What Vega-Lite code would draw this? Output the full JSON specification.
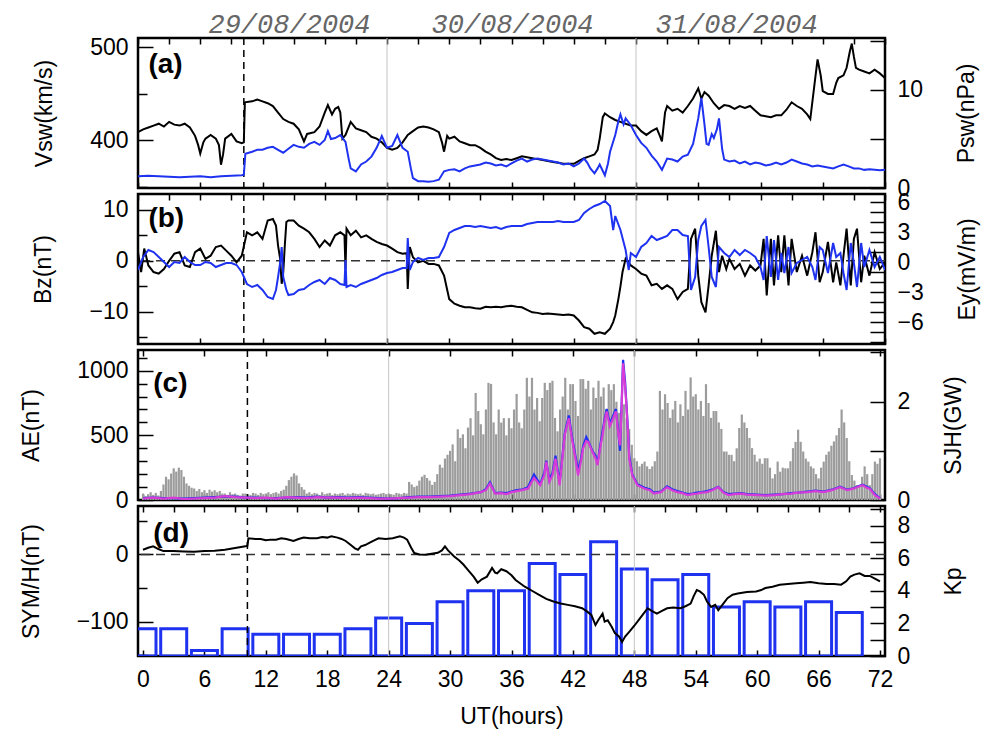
{
"$schema": "https://vega.github.io/schema/vega-lite/v6.json",
"padding": {"left": 18, "top": 9, "right": 5, "bottom": 5},
"bounds": "flush",
"spacing": 6,
"config": {
  "font": "Liberation Sans",
  "view": {"stroke": "black", "strokeWidth": 2.5},
  "axis": {"domain": false, "grid": false, "zindex": 1, "tickColor": "black", "tickWidth": 1.5, "labelFont": "Liberation Sans", "labelFontSize": 23, "labelColor": "black", "titleFont": "Liberation Sans", "titleFontSize": 23, "titleFontWeight": "normal", "titleColor": "black", "labelOverlap": false, "labelFlush": false}
},
"datasets": {
  "days": [{"h": 24}, {"h": 48}],
  "onset": [{"h": 10.2}],
  "zero": [{"z": 0}],
  "dates": [{"h": 14.6, "d": "29/08/2004"}, {"h": 36.1, "d": "30/08/2004"}, {"h": 57.7, "d": "31/08/2004"}],
  "vsw": [{"h":0,"v":409},{"h":0.5,"v":412},{"h":1,"v":414},{"h":1.5,"v":416},{"h":2,"v":418},{"h":2.5,"v":415},{"h":3,"v":420},{"h":3.5,"v":417},{"h":4,"v":416},{"h":4.5,"v":418},{"h":5,"v":414},{"h":5.5,"v":405},{"h":5.8,"v":395},{"h":6,"v":386},{"h":6.3,"v":398},{"h":6.5,"v":402},{"h":7,"v":406},{"h":7.5,"v":402},{"h":7.8,"v":395},{"h":8,"v":374},{"h":8.2,"v":385},{"h":8.4,"v":402},{"h":9,"v":407},{"h":9.5,"v":399},{"h":10,"v":397},{"h":10.2,"v":398},{"h":10.3,"v":441},{"h":11,"v":442},{"h":11.5,"v":444},{"h":12,"v":442},{"h":12.5,"v":440},{"h":13,"v":437},{"h":13.5,"v":430},{"h":14,"v":423},{"h":14.5,"v":420},{"h":15,"v":418},{"h":15.5,"v":412},{"h":16,"v":399},{"h":16.3,"v":407},{"h":17,"v":409},{"h":17.5,"v":415},{"h":18,"v":430},{"h":18.3,"v":438},{"h":18.7,"v":428},{"h":19,"v":434},{"h":19.3,"v":436},{"h":19.5,"v":430},{"h":19.7,"v":402},{"h":20,"v":406},{"h":20.5,"v":420},{"h":21,"v":413},{"h":21.5,"v":411},{"h":22,"v":409},{"h":22.5,"v":404},{"h":23,"v":402},{"h":23.5,"v":398},{"h":24,"v":392},{"h":24.5,"v":390},{"h":25,"v":392},{"h":25.5,"v":398},{"h":26,"v":406},{"h":26.5,"v":410},{"h":27,"v":414},{"h":27.5,"v":415},{"h":28,"v":414},{"h":28.5,"v":412},{"h":29,"v":409},{"h":29.3,"v":398},{"h":29.5,"v":388},{"h":29.8,"v":405},{"h":30,"v":402},{"h":30.5,"v":404},{"h":31,"v":399},{"h":31.5,"v":397},{"h":32,"v":395},{"h":32.5,"v":395},{"h":33,"v":392},{"h":33.5,"v":388},{"h":34,"v":385},{"h":34.5,"v":381},{"h":35,"v":379},{"h":35.5,"v":380},{"h":36,"v":379},{"h":36.5,"v":381},{"h":37,"v":383},{"h":37.5,"v":382},{"h":38,"v":381},{"h":38.5,"v":380},{"h":39,"v":379},{"h":39.5,"v":378},{"h":40,"v":377},{"h":40.5,"v":376},{"h":41,"v":375},{"h":41.5,"v":375},{"h":42,"v":375},{"h":42.5,"v":378},{"h":43,"v":381},{"h":43.5,"v":383},{"h":44,"v":385},{"h":44.3,"v":390},{"h":44.5,"v":402},{"h":44.8,"v":425},{"h":45,"v":429},{"h":45.5,"v":425},{"h":46,"v":422},{"h":46.5,"v":420},{"h":47,"v":418},{"h":47.5,"v":416},{"h":48,"v":416},{"h":48.5,"v":410},{"h":49,"v":406},{"h":49.5,"v":410},{"h":50,"v":413},{"h":50.3,"v":405},{"h":50.5,"v":399},{"h":50.8,"v":430},{"h":51,"v":437},{"h":51.5,"v":432},{"h":52,"v":434},{"h":52.5,"v":430},{"h":53,"v":437},{"h":53.5,"v":445},{"h":54,"v":456},{"h":54.3,"v":445},{"h":54.6,"v":452},{"h":55,"v":448},{"h":55.5,"v":440},{"h":56,"v":434},{"h":56.5,"v":438},{"h":57,"v":437},{"h":57.5,"v":434},{"h":58,"v":437},{"h":58.5,"v":435},{"h":59,"v":437},{"h":59.5,"v":432},{"h":60,"v":427},{"h":60.5,"v":426},{"h":61,"v":425},{"h":61.5,"v":427},{"h":62,"v":427},{"h":62.5,"v":433},{"h":63,"v":441},{"h":63.5,"v":437},{"h":64,"v":434},{"h":64.5,"v":428},{"h":64.8,"v":423},{"h":65.2,"v":460},{"h":65.5,"v":487},{"h":65.8,"v":470},{"h":66,"v":453},{"h":66.5,"v":450},{"h":67,"v":450},{"h":67.3,"v":462},{"h":67.5,"v":467},{"h":68,"v":470},{"h":68.3,"v":478},{"h":68.6,"v":495},{"h":68.8,"v":504},{"h":69,"v":490},{"h":69.2,"v":478},{"h":69.5,"v":476},{"h":70,"v":474},{"h":70.5,"v":472},{"h":71,"v":476},{"h":71.5,"v":472},{"h":72,"v":467}],
  "psw": [{"h":0,"p":1.2},{"h":1,"p":1.25},{"h":2,"p":1.2},{"h":3,"p":1.15},{"h":4,"p":1.1},{"h":5,"p":1.15},{"h":6,"p":1.2},{"h":7,"p":1.1},{"h":8,"p":1.2},{"h":9,"p":1.25},{"h":10,"p":1.3},{"h":10.2,"p":1.35},{"h":10.35,"p":3.5},{"h":11,"p":3.7},{"h":11.5,"p":3.9},{"h":12,"p":3.9},{"h":12.5,"p":4.1},{"h":13,"p":4.2},{"h":13.5,"p":3.9},{"h":14,"p":3.6},{"h":14.5,"p":4.0},{"h":15,"p":4.4},{"h":15.5,"p":4.2},{"h":16,"p":4.1},{"h":16.5,"p":4.5},{"h":17,"p":4.7},{"h":17.5,"p":4.4},{"h":18,"p":4.9},{"h":18.3,"p":5.8},{"h":18.6,"p":5.0},{"h":19,"p":5.1},{"h":19.5,"p":5.4},{"h":20,"p":4.7},{"h":20.3,"p":3.0},{"h":20.5,"p":2.0},{"h":21,"p":1.7},{"h":21.5,"p":2.4},{"h":22,"p":2.7},{"h":22.5,"p":3.2},{"h":23,"p":4.1},{"h":23.5,"p":5.3},{"h":24,"p":4.1},{"h":24.5,"p":4.3},{"h":25,"p":5.4},{"h":25.5,"p":4.1},{"h":26,"p":3.7},{"h":26.3,"p":2.0},{"h":26.5,"p":1.0},{"h":27,"p":0.7},{"h":27.5,"p":0.7},{"h":28,"p":0.65},{"h":28.5,"p":0.7},{"h":29,"p":0.85},{"h":29.5,"p":1.7},{"h":30,"p":1.85},{"h":30.5,"p":1.9},{"h":31,"p":1.7},{"h":31.5,"p":2.0},{"h":32,"p":2.2},{"h":32.5,"p":2.3},{"h":33,"p":2.4},{"h":33.5,"p":2.6},{"h":34,"p":2.5},{"h":34.5,"p":2.3},{"h":35,"p":2.4},{"h":35.5,"p":2.2},{"h":36,"p":2.5},{"h":36.5,"p":2.8},{"h":37,"p":3.0},{"h":37.5,"p":2.7},{"h":38,"p":2.9},{"h":38.5,"p":3.0},{"h":39,"p":2.9},{"h":39.5,"p":2.8},{"h":40,"p":2.7},{"h":40.5,"p":2.6},{"h":41,"p":2.4},{"h":41.5,"p":2.5},{"h":42,"p":2.2},{"h":42.5,"p":2.5},{"h":43,"p":3.0},{"h":43.3,"p":2.6},{"h":43.6,"p":2.0},{"h":44,"p":1.5},{"h":44.3,"p":2.0},{"h":44.5,"p":2.4},{"h":45,"p":1.3},{"h":45.3,"p":2.5},{"h":45.5,"p":3.7},{"h":46,"p":5.4},{"h":46.3,"p":6.8},{"h":46.5,"p":7.5},{"h":46.8,"p":6.5},{"h":47,"p":7.1},{"h":47.5,"p":6.4},{"h":48,"p":5.4},{"h":48.5,"p":4.6},{"h":49,"p":4.1},{"h":49.5,"p":3.3},{"h":50,"p":2.7},{"h":50.5,"p":1.85},{"h":51,"p":3.0},{"h":51.5,"p":2.9},{"h":52,"p":2.7},{"h":52.5,"p":3.2},{"h":53,"p":3.4},{"h":53.5,"p":4.5},{"h":54,"p":7.1},{"h":54.3,"p":9.2},{"h":54.6,"p":6.5},{"h":54.8,"p":4.5},{"h":55,"p":4.4},{"h":55.3,"p":5.5},{"h":55.5,"p":5.1},{"h":55.8,"p":6.0},{"h":56,"p":7.1},{"h":56.3,"p":4.0},{"h":56.5,"p":2.9},{"h":57,"p":2.7},{"h":57.5,"p":2.8},{"h":58,"p":2.5},{"h":58.5,"p":2.7},{"h":59,"p":2.4},{"h":59.5,"p":2.6},{"h":60,"p":2.5},{"h":60.5,"p":2.3},{"h":61,"p":2.4},{"h":61.5,"p":2.6},{"h":62,"p":2.4},{"h":62.5,"p":2.6},{"h":63,"p":2.9},{"h":63.5,"p":2.7},{"h":64,"p":2.5},{"h":64.5,"p":2.4},{"h":65,"p":2.2},{"h":65.5,"p":2.3},{"h":66,"p":2.2},{"h":66.5,"p":2.1},{"h":67,"p":2.0},{"h":67.5,"p":2.2},{"h":68,"p":2.4},{"h":68.5,"p":2.2},{"h":69,"p":2.0},{"h":69.5,"p":2.0},{"h":70,"p":1.85},{"h":70.5,"p":1.9},{"h":71,"p":1.85},{"h":71.5,"p":1.8},{"h":72,"p":1.85}],
  "bz": [{"h":0,"b":1.7},{"h":0.3,"b":-2.2},{"h":0.6,"b":2.4},{"h":1,"b":-0.9},{"h":1.5,"b":-2.2},{"h":2,"b":-2.5},{"h":2.5,"b":-1.6},{"h":3,"b":0},{"h":3.5,"b":1.4},{"h":4,"b":1.7},{"h":4.5,"b":-0.9},{"h":5,"b":-1.2},{"h":5.5,"b":1.7},{"h":6,"b":2.4},{"h":6.5,"b":0.4},{"h":7,"b":1.0},{"h":7.5,"b":2.7},{"h":8,"b":3.0},{"h":8.5,"b":2.0},{"h":9,"b":1.0},{"h":9.5,"b":-0.3},{"h":10,"b":1.0},{"h":10.5,"b":5.6},{"h":11,"b":5.0},{"h":11.5,"b":5.6},{"h":12,"b":4.3},{"h":12.5,"b":7.9},{"h":13,"b":8.2},{"h":13.3,"b":6.9},{"h":13.5,"b":3.0},{"h":13.7,"b":0.4},{"h":13.85,"b":-4.5},{"h":14,"b":-2.2},{"h":14.15,"b":3},{"h":14.3,"b":7.6},{"h":14.5,"b":7.9},{"h":15,"b":7.9},{"h":15.5,"b":6.9},{"h":16,"b":6.3},{"h":16.5,"b":5.6},{"h":17,"b":4.3},{"h":17.5,"b":2.7},{"h":18,"b":4.0},{"h":18.5,"b":3.0},{"h":19,"b":5.0},{"h":19.5,"b":5.6},{"h":19.9,"b":5},{"h":20,"b":-1.6},{"h":20.1,"b":6.3},{"h":20.5,"b":5.0},{"h":21,"b":5.9},{"h":21.5,"b":4.6},{"h":22,"b":5.0},{"h":22.5,"b":4.3},{"h":23,"b":3.7},{"h":23.5,"b":3.3},{"h":24,"b":3.0},{"h":24.5,"b":2.4},{"h":25,"b":1.7},{"h":25.5,"b":1.4},{"h":25.9,"b":1.5},{"h":26,"b":-5.5},{"h":26.1,"b":-1},{"h":26.2,"b":2.7},{"h":26.5,"b":0.7},{"h":27,"b":-0.3},{"h":27.5,"b":0},{"h":28,"b":-0.6},{"h":28.5,"b":-0.6},{"h":29,"b":-0.9},{"h":29.5,"b":-2.9},{"h":30,"b":-7.5},{"h":30.5,"b":-8.4},{"h":31,"b":-8.8},{"h":31.5,"b":-9.1},{"h":32,"b":-9.1},{"h":32.5,"b":-9.3},{"h":33,"b":-9.4},{"h":33.5,"b":-9.0},{"h":34,"b":-9.1},{"h":34.5,"b":-9.0},{"h":35,"b":-9.1},{"h":35.5,"b":-8.9},{"h":36,"b":-8.8},{"h":36.5,"b":-9.0},{"h":37,"b":-9.1},{"h":37.5,"b":-9.6},{"h":38,"b":-10.1},{"h":38.5,"b":-10.2},{"h":39,"b":-10.4},{"h":39.5,"b":-10.3},{"h":40,"b":-10.4},{"h":40.5,"b":-10.5},{"h":41,"b":-10.6},{"h":41.5,"b":-10.5},{"h":42,"b":-10.7},{"h":42.5,"b":-11.7},{"h":43,"b":-13.0},{"h":43.5,"b":-13.3},{"h":44,"b":-14.3},{"h":44.5,"b":-14.0},{"h":45,"b":-14.3},{"h":45.5,"b":-13.3},{"h":45.8,"b":-12},{"h":46,"b":-10.7},{"h":46.3,"b":-7.5},{"h":46.5,"b":-5},{"h":46.7,"b":-2.2},{"h":47,"b":0.4},{"h":47.5,"b":-0.9},{"h":48,"b":-1.6},{"h":48.5,"b":-2.5},{"h":49,"b":-2.9},{"h":49.5,"b":-4.8},{"h":50,"b":-4.5},{"h":50.5,"b":-5.5},{"h":51,"b":-4.8},{"h":51.5,"b":-5.5},{"h":52,"b":-7.5},{"h":52.5,"b":-6.1},{"h":53,"b":-5.5},{"h":53.3,"b":4.3},{"h":53.7,"b":6.3},{"h":54,"b":-2.9},{"h":54.3,"b":-8.1},{"h":54.7,"b":-10.1},{"h":55,"b":-4.8},{"h":55.3,"b":1.0},{"h":55.7,"b":5.9},{"h":56,"b":-2.2},{"h":56.3,"b":1.0},{"h":56.7,"b":-1.6},{"h":57,"b":0.4},{"h":57.5,"b":-1.6},{"h":58,"b":-0.6},{"h":58.5,"b":-2.9},{"h":59,"b":-0.9},{"h":59.5,"b":-1.9},{"h":60,"b":-0.9},{"h":60.3,"b":4.3},{"h":60.6,"b":-6.8},{"h":61,"b":4.3},{"h":61.3,"b":-4.8},{"h":61.7,"b":5.0},{"h":62,"b":-2.2},{"h":62.3,"b":5.0},{"h":62.7,"b":-4.8},{"h":63,"b":4.3},{"h":63.5,"b":-2.2},{"h":64,"b":1.0},{"h":64.5,"b":-2.9},{"h":65,"b":1.7},{"h":65.3,"b":5.6},{"h":65.7,"b":-4.2},{"h":66,"b":-2.2},{"h":66.5,"b":3.7},{"h":67,"b":-4.2},{"h":67.3,"b":-0.3},{"h":67.7,"b":-4.8},{"h":68,"b":1.0},{"h":68.3,"b":6.3},{"h":68.7,"b":-4.8},{"h":69,"b":4.3},{"h":69.3,"b":6.3},{"h":69.7,"b":-4.2},{"h":70,"b":1.0},{"h":70.5,"b":-2.9},{"h":71,"b":1.7},{"h":71.5,"b":-1.6},{"h":72,"b":-0.3}],
  "ey": [{"h":0,"e":-0.8},{"h":0.5,"e":0.5},{"h":1,"e":1.2},{"h":1.5,"e":1.0},{"h":2,"e":0.5},{"h":2.5,"e":0},{"h":3,"e":-0.5},{"h":3.5,"e":0},{"h":4,"e":-0.1},{"h":4.5,"e":0.5},{"h":5,"e":0},{"h":5.5,"e":-0.3},{"h":6,"e":-0.3},{"h":6.5,"e":0},{"h":7,"e":-0.1},{"h":7.5,"e":-0.5},{"h":8,"e":-0.3},{"h":8.5,"e":-0.1},{"h":9,"e":-0.1},{"h":9.5,"e":-0.3},{"h":10,"e":-1.0},{"h":10.5,"e":-2.2},{"h":11,"e":-2.5},{"h":11.5,"e":-2.3},{"h":12,"e":-2.8},{"h":12.5,"e":-3.5},{"h":13,"e":-3.7},{"h":13.3,"e":-2.8},{"h":13.5,"e":-1.5},{"h":13.7,"e":-0.1},{"h":13.85,"e":1.5},{"h":14,"e":-1.5},{"h":14.3,"e":-2.8},{"h":14.5,"e":-3.3},{"h":15,"e":-3.2},{"h":15.5,"e":-2.8},{"h":16,"e":-2.7},{"h":16.5,"e":-2.3},{"h":17,"e":-2.0},{"h":17.5,"e":-1.8},{"h":18,"e":-2.2},{"h":18.5,"e":-1.6},{"h":19,"e":-1.8},{"h":19.5,"e":-2.2},{"h":19.9,"e":-2.3},{"h":20,"e":0.2},{"h":20.1,"e":-2.5},{"h":20.5,"e":-2.3},{"h":21,"e":-2.5},{"h":21.5,"e":-2.2},{"h":22,"e":-2.0},{"h":22.5,"e":-1.8},{"h":23,"e":-1.6},{"h":23.5,"e":-1.3},{"h":24,"e":-1.1},{"h":24.5,"e":-1.0},{"h":25,"e":-0.8},{"h":25.5,"e":-0.6},{"h":25.9,"e":-0.6},{"h":26,"e":2.4},{"h":26.1,"e":0.5},{"h":26.2,"e":-0.8},{"h":26.5,"e":0},{"h":27,"e":0.4},{"h":27.5,"e":0.2},{"h":28,"e":0.4},{"h":28.5,"e":0.4},{"h":29,"e":0.5},{"h":29.5,"e":1.5},{"h":30,"e":2.9},{"h":30.5,"e":3.2},{"h":31,"e":3.4},{"h":31.5,"e":3.6},{"h":32,"e":3.6},{"h":32.5,"e":3.5},{"h":33,"e":3.6},{"h":33.5,"e":3.5},{"h":34,"e":3.4},{"h":34.5,"e":3.5},{"h":35,"e":3.3},{"h":35.5,"e":3.5},{"h":36,"e":3.6},{"h":36.5,"e":3.6},{"h":37,"e":3.6},{"h":37.5,"e":3.8},{"h":38,"e":3.9},{"h":38.5,"e":4.0},{"h":39,"e":4.0},{"h":39.5,"e":4.0},{"h":40,"e":4.0},{"h":40.5,"e":4.1},{"h":41,"e":4.0},{"h":41.5,"e":4.0},{"h":42,"e":4.0},{"h":42.5,"e":4.2},{"h":43,"e":4.9},{"h":43.5,"e":5.3},{"h":44,"e":5.6},{"h":44.5,"e":5.8},{"h":45,"e":6.1},{"h":45.5,"e":5.6},{"h":45.8,"e":3.2},{"h":46,"e":4.6},{"h":46.5,"e":3.2},{"h":47,"e":1.2},{"h":47.3,"e":-0.8},{"h":47.5,"e":0.9},{"h":48,"e":0.5},{"h":48.5,"e":1.5},{"h":49,"e":1.9},{"h":49.5,"e":2.6},{"h":50,"e":2.2},{"h":50.5,"e":2.4},{"h":51,"e":2.6},{"h":51.5,"e":3.2},{"h":52,"e":3.2},{"h":52.5,"e":2.7},{"h":53,"e":2.6},{"h":53.3,"e":-2.8},{"h":53.7,"e":-1.5},{"h":54,"e":2.2},{"h":54.3,"e":3.6},{"h":54.7,"e":4.2},{"h":55,"e":1.5},{"h":55.3,"e":-1.5},{"h":55.7,"e":-2.5},{"h":56,"e":1.5},{"h":56.5,"e":0.9},{"h":57,"e":0.5},{"h":57.5,"e":1.2},{"h":58,"e":0.7},{"h":58.5,"e":1.2},{"h":59,"e":0.9},{"h":59.5,"e":0.5},{"h":60,"e":-0.5},{"h":60.3,"e":-1.8},{"h":60.6,"e":2.6},{"h":61,"e":-1.5},{"h":61.3,"e":2.2},{"h":61.7,"e":-1.8},{"h":62,"e":0.9},{"h":62.3,"e":-1.1},{"h":62.7,"e":1.5},{"h":63,"e":-1.1},{"h":63.5,"e":-0.1},{"h":64,"e":0.2},{"h":64.5,"e":0.5},{"h":65,"e":-0.5},{"h":65.3,"e":-1.8},{"h":65.7,"e":1.5},{"h":66,"e":1.2},{"h":66.5,"e":-1.1},{"h":67,"e":1.9},{"h":67.3,"e":0.5},{"h":67.7,"e":0.9},{"h":68,"e":-1.1},{"h":68.3,"e":-2.8},{"h":68.7,"e":1.9},{"h":69,"e":-0.1},{"h":69.3,"e":-2.5},{"h":69.7,"e":1.9},{"h":70,"e":-0.5},{"h":70.5,"e":1.2},{"h":71,"e":-0.5},{"h":71.5,"e":0.5},{"h":72,"e":-0.8}],
  "ae": [{"h":0,"a":50},{"h":0.25,"a":30},{"h":0.5,"a":45},{"h":0.75,"a":60},{"h":1,"a":40},{"h":1.25,"a":55},{"h":1.5,"a":35},{"h":1.75,"a":70},{"h":2,"a":120},{"h":2.25,"a":180},{"h":2.5,"a":160},{"h":2.75,"a":205},{"h":3,"a":245},{"h":3.25,"a":220},{"h":3.5,"a":250},{"h":3.75,"a":232},{"h":4,"a":180},{"h":4.25,"a":128},{"h":4.5,"a":110},{"h":4.75,"a":95},{"h":5,"a":89},{"h":5.25,"a":70},{"h":5.5,"a":85},{"h":5.75,"a":60},{"h":6,"a":76},{"h":6.25,"a":55},{"h":6.5,"a":80},{"h":6.75,"a":65},{"h":7,"a":76},{"h":7.25,"a":60},{"h":7.5,"a":70},{"h":7.75,"a":50},{"h":8,"a":50},{"h":8.25,"a":40},{"h":8.5,"a":60},{"h":8.75,"a":45},{"h":9,"a":50},{"h":9.25,"a":40},{"h":9.5,"a":35},{"h":9.75,"a":50},{"h":10,"a":50},{"h":10.25,"a":45},{"h":10.5,"a":40},{"h":10.75,"a":55},{"h":11,"a":50},{"h":11.25,"a":40},{"h":11.5,"a":55},{"h":11.75,"a":45},{"h":12,"a":50},{"h":12.25,"a":60},{"h":12.5,"a":45},{"h":12.75,"a":55},{"h":13,"a":60},{"h":13.25,"a":50},{"h":13.5,"a":70},{"h":13.75,"a":80},{"h":14,"a":110},{"h":14.25,"a":154},{"h":14.5,"a":180},{"h":14.75,"a":206},{"h":15,"a":190},{"h":15.25,"a":128},{"h":15.5,"a":100},{"h":15.75,"a":80},{"h":16,"a":50},{"h":16.25,"a":60},{"h":16.5,"a":45},{"h":16.75,"a":55},{"h":17,"a":50},{"h":17.25,"a":40},{"h":17.5,"a":60},{"h":17.75,"a":45},{"h":18,"a":50},{"h":18.25,"a":55},{"h":18.5,"a":40},{"h":18.75,"a":50},{"h":19,"a":45},{"h":19.25,"a":50},{"h":19.5,"a":55},{"h":19.75,"a":40},{"h":20,"a":50},{"h":20.25,"a":45},{"h":20.5,"a":55},{"h":20.75,"a":50},{"h":21,"a":45},{"h":21.25,"a":50},{"h":21.5,"a":40},{"h":21.75,"a":55},{"h":22,"a":50},{"h":22.25,"a":45},{"h":22.5,"a":50},{"h":22.75,"a":40},{"h":23,"a":45},{"h":23.25,"a":50},{"h":23.5,"a":55},{"h":23.75,"a":45},{"h":24,"a":50},{"h":24.25,"a":45},{"h":24.5,"a":40},{"h":24.75,"a":55},{"h":25,"a":50},{"h":25.25,"a":45},{"h":25.5,"a":55},{"h":25.75,"a":50},{"h":26,"a":140},{"h":26.25,"a":120},{"h":26.5,"a":100},{"h":26.75,"a":110},{"h":27,"a":150},{"h":27.25,"a":180},{"h":27.5,"a":195},{"h":27.75,"a":170},{"h":28,"a":150},{"h":28.25,"a":117},{"h":28.5,"a":140},{"h":28.75,"a":200},{"h":29,"a":273},{"h":29.25,"a":250},{"h":29.5,"a":320},{"h":29.75,"a":350},{"h":30,"a":380},{"h":30.25,"a":430},{"h":30.5,"a":300},{"h":30.75,"a":547},{"h":31,"a":480},{"h":31.25,"a":508},{"h":31.5,"a":400},{"h":31.75,"a":560},{"h":32,"a":633},{"h":32.25,"a":500},{"h":32.5,"a":828},{"h":32.75,"a":688},{"h":33,"a":586},{"h":33.25,"a":508},{"h":33.5,"a":700},{"h":33.75,"a":906},{"h":34,"a":898},{"h":34.25,"a":600},{"h":34.5,"a":508},{"h":34.75,"a":700},{"h":35,"a":599},{"h":35.25,"a":633},{"h":35.5,"a":500},{"h":35.75,"a":633},{"h":36,"a":555},{"h":36.25,"a":700},{"h":36.5,"a":820},{"h":36.75,"a":600},{"h":37,"a":555},{"h":37.25,"a":700},{"h":37.5,"a":945},{"h":37.75,"a":800},{"h":38,"a":945},{"h":38.25,"a":700},{"h":38.5,"a":789},{"h":38.75,"a":609},{"h":39,"a":789},{"h":39.25,"a":906},{"h":39.5,"a":850},{"h":39.75,"a":906},{"h":40,"a":922},{"h":40.25,"a":635},{"h":40.5,"a":531},{"h":40.75,"a":700},{"h":41,"a":800},{"h":41.25,"a":945},{"h":41.5,"a":700},{"h":41.75,"a":896},{"h":42,"a":896},{"h":42.25,"a":766},{"h":42.5,"a":650},{"h":42.75,"a":935},{"h":43,"a":935},{"h":43.25,"a":860},{"h":43.5,"a":922},{"h":43.75,"a":700},{"h":44,"a":870},{"h":44.25,"a":789},{"h":44.5,"a":922},{"h":44.75,"a":800},{"h":45,"a":870},{"h":45.25,"a":700},{"h":45.5,"a":896},{"h":45.75,"a":850},{"h":46,"a":896},{"h":46.25,"a":760},{"h":46.5,"a":674},{"h":46.75,"a":700},{"h":47,"a":740},{"h":47.25,"a":635},{"h":47.5,"a":550},{"h":47.75,"a":427},{"h":48,"a":323},{"h":48.25,"a":300},{"h":48.5,"a":260},{"h":48.75,"a":280},{"h":49,"a":297},{"h":49.25,"a":260},{"h":49.5,"a":240},{"h":49.75,"a":260},{"h":50,"a":300},{"h":50.25,"a":375},{"h":50.5,"a":844},{"h":50.75,"a":700},{"h":51,"a":818},{"h":51.25,"a":750},{"h":51.5,"a":635},{"h":51.75,"a":700},{"h":52,"a":766},{"h":52.25,"a":600},{"h":52.5,"a":740},{"h":52.75,"a":650},{"h":53,"a":844},{"h":53.25,"a":700},{"h":53.5,"a":948},{"h":53.75,"a":800},{"h":54,"a":818},{"h":54.25,"a":700},{"h":54.5,"a":766},{"h":54.75,"a":650},{"h":55,"a":896},{"h":55.25,"a":750},{"h":55.5,"a":635},{"h":55.75,"a":688},{"h":56,"a":688},{"h":56.25,"a":600},{"h":56.5,"a":550},{"h":56.75,"a":375},{"h":57,"a":375},{"h":57.25,"a":350},{"h":57.5,"a":349},{"h":57.75,"a":300},{"h":58,"a":400},{"h":58.25,"a":557},{"h":58.5,"a":661},{"h":58.75,"a":600},{"h":59,"a":557},{"h":59.25,"a":480},{"h":59.5,"a":401},{"h":59.75,"a":350},{"h":60,"a":297},{"h":60.25,"a":320},{"h":60.5,"a":280},{"h":60.75,"a":323},{"h":61,"a":323},{"h":61.25,"a":250},{"h":61.5,"a":167},{"h":61.75,"a":200},{"h":62,"a":297},{"h":62.25,"a":219},{"h":62.5,"a":250},{"h":62.75,"a":245},{"h":63,"a":245},{"h":63.25,"a":300},{"h":63.5,"a":401},{"h":63.75,"a":450},{"h":64,"a":544},{"h":64.25,"a":450},{"h":64.5,"a":375},{"h":64.75,"a":320},{"h":65,"a":297},{"h":65.25,"a":260},{"h":65.5,"a":245},{"h":65.75,"a":200},{"h":66,"a":167},{"h":66.25,"a":250},{"h":66.5,"a":297},{"h":66.75,"a":350},{"h":67,"a":375},{"h":67.25,"a":420},{"h":67.5,"a":453},{"h":67.75,"a":500},{"h":68,"a":557},{"h":68.25,"a":700},{"h":68.5,"a":600},{"h":68.75,"a":479},{"h":69,"a":300},{"h":69.25,"a":193},{"h":69.5,"a":150},{"h":69.75,"a":115},{"h":70,"a":115},{"h":70.25,"a":180},{"h":70.5,"a":260},{"h":70.75,"a":200},{"h":71,"a":115},{"h":71.25,"a":200},{"h":71.5,"a":297},{"h":71.75,"a":280},{"h":72,"a":323}],
  "sjh": [{"h":0,"m":0.03,"b":0.04},{"h":1,"m":0.05,"b":0.05},{"h":2,"m":0.03,"b":0.04},{"h":3,"m":0.05,"b":0.04},{"h":4,"m":0.02,"b":0.03},{"h":5,"m":0.03,"b":0.04},{"h":6,"m":0.04,"b":0.05},{"h":7,"m":0.05,"b":0.06},{"h":8,"m":0.08,"b":0.07},{"h":9,"m":0.06,"b":0.07},{"h":10,"m":0.05,"b":0.05},{"h":11,"m":0.04,"b":0.05},{"h":12,"m":0.05,"b":0.04},{"h":13,"m":0.03,"b":0.04},{"h":14,"m":0.06,"b":0.05},{"h":15,"m":0.05,"b":0.06},{"h":16,"m":0.04,"b":0.05},{"h":17,"m":0.06,"b":0.07},{"h":18,"m":0.05,"b":0.05},{"h":19,"m":0.05,"b":0.06},{"h":20,"m":0.04,"b":0.05},{"h":21,"m":0.05,"b":0.06},{"h":22,"m":0.04,"b":0.05},{"h":23,"m":0.03,"b":0.04},{"h":24,"m":0.03,"b":0.03},{"h":25,"m":0.04,"b":0.04},{"h":26,"m":0.05,"b":0.06},{"h":27,"m":0.06,"b":0.07},{"h":28,"m":0.06,"b":0.07},{"h":29,"m":0.07,"b":0.08},{"h":30,"m":0.08,"b":0.09},{"h":31,"m":0.1,"b":0.11},{"h":32,"m":0.12,"b":0.13},{"h":33,"m":0.16,"b":0.16},{"h":33.5,"m":0.2,"b":0.22},{"h":33.9,"m":0.33,"b":0.36},{"h":34.4,"m":0.13,"b":0.14},{"h":35,"m":0.14,"b":0.15},{"h":35.5,"m":0.12,"b":0.14},{"h":36,"m":0.16,"b":0.17},{"h":36.5,"m":0.18,"b":0.2},{"h":37,"m":0.2,"b":0.21},{"h":37.6,"m":0.23,"b":0.26},{"h":38.2,"m":0.45,"b":0.52},{"h":38.8,"m":0.3,"b":0.32},{"h":39.2,"m":0.5,"b":0.55},{"h":39.4,"m":0.78,"b":0.8},{"h":39.7,"m":0.37,"b":0.4},{"h":40,"m":0.5,"b":0.55},{"h":40.3,"m":0.84,"b":0.9},{"h":40.7,"m":0.3,"b":0.35},{"h":41,"m":0.9,"b":0.95},{"h":41.2,"m":1.32,"b":1.35},{"h":41.6,"m":1.66,"b":1.72},{"h":41.9,"m":1.25,"b":1.3},{"h":42.2,"m":0.9,"b":0.95},{"h":42.5,"m":0.5,"b":0.6},{"h":42.8,"m":0.8,"b":0.85},{"h":43,"m":1.05,"b":1.1},{"h":43.3,"m":1.2,"b":1.28},{"h":43.5,"m":1.18,"b":1.2},{"h":43.9,"m":0.98,"b":1.0},{"h":44.2,"m":0.85,"b":0.9},{"h":44.4,"m":0.71,"b":0.75},{"h":44.7,"m":1.1,"b":1.15},{"h":44.9,"m":1.32,"b":1.4},{"h":45.1,"m":1.6,"b":1.65},{"h":45.3,"m":1.8,"b":1.85},{"h":45.6,"m":1.5,"b":1.55},{"h":45.8,"m":1.59,"b":1.65},{"h":46,"m":1.7,"b":1.75},{"h":46.2,"m":1.8,"b":1.85},{"h":46.4,"m":1.4,"b":1.45},{"h":46.6,"m":1.11,"b":1.0},{"h":46.75,"m":1.8,"b":1.9},{"h":46.9,"m":2.78,"b":2.85},{"h":47.1,"m":2.3,"b":2.4},{"h":47.2,"m":2.0,"b":2.05},{"h":47.4,"m":1.3,"b":1.35},{"h":47.5,"m":0.84,"b":0.9},{"h":47.8,"m":0.5,"b":0.52},{"h":48.3,"m":0.3,"b":0.32},{"h":49,"m":0.23,"b":0.25},{"h":49.5,"m":0.2,"b":0.22},{"h":49.9,"m":0.13,"b":0.15},{"h":50.6,"m":0.16,"b":0.17},{"h":51.2,"m":0.26,"b":0.28},{"h":51.7,"m":0.2,"b":0.22},{"h":52.2,"m":0.16,"b":0.18},{"h":52.7,"m":0.14,"b":0.15},{"h":53.2,"m":0.1,"b":0.12},{"h":53.7,"m":0.12,"b":0.13},{"h":54.1,"m":0.13,"b":0.15},{"h":54.6,"m":0.15,"b":0.16},{"h":55.1,"m":0.16,"b":0.18},{"h":55.6,"m":0.2,"b":0.21},{"h":56.2,"m":0.26,"b":0.27},{"h":56.7,"m":0.15,"b":0.16},{"h":57.2,"m":0.1,"b":0.12},{"h":57.8,"m":0.12,"b":0.13},{"h":58.4,"m":0.13,"b":0.14},{"h":59,"m":0.11,"b":0.12},{"h":60,"m":0.1,"b":0.11},{"h":60.8,"m":0.09,"b":0.1},{"h":61.7,"m":0.1,"b":0.11},{"h":62.5,"m":0.12,"b":0.12},{"h":63.3,"m":0.13,"b":0.14},{"h":64,"m":0.15,"b":0.15},{"h":64.9,"m":0.16,"b":0.17},{"h":65.7,"m":0.18,"b":0.19},{"h":66.5,"m":0.16,"b":0.17},{"h":67.3,"m":0.2,"b":0.21},{"h":68.1,"m":0.26,"b":0.27},{"h":68.8,"m":0.2,"b":0.21},{"h":69.4,"m":0.23,"b":0.24},{"h":70,"m":0.28,"b":0.29},{"h":70.3,"m":0.3,"b":0.31},{"h":70.7,"m":0.25,"b":0.27},{"h":71,"m":0.23,"b":0.24},{"h":71.5,"m":0.1,"b":0.12},{"h":72,"m":0.03,"b":0.04}],
  "sym": [{"h":0,"s":7},{"h":0.5,"s":10},{"h":1,"s":12},{"h":1.5,"s":8},{"h":2,"s":5},{"h":3,"s":5},{"h":4,"s":4.5},{"h":5,"s":4},{"h":6,"s":5},{"h":7,"s":5.5},{"h":8,"s":7},{"h":9,"s":9.5},{"h":10,"s":12},{"h":10.2,"s":13},{"h":10.3,"s":24},{"h":11,"s":23},{"h":11.5,"s":23},{"h":12,"s":21},{"h":12.5,"s":22},{"h":13,"s":22},{"h":13.5,"s":24},{"h":14,"s":23},{"h":14.7,"s":20},{"h":15.2,"s":23},{"h":15.7,"s":25},{"h":16.3,"s":24},{"h":17,"s":24},{"h":17.5,"s":26},{"h":18,"s":25},{"h":18.4,"s":27},{"h":19,"s":25},{"h":19.4,"s":23},{"h":19.8,"s":20},{"h":20.3,"s":14},{"h":20.7,"s":9},{"h":21,"s":7},{"h":21.3,"s":12},{"h":21.7,"s":14},{"h":22.2,"s":18},{"h":23,"s":24},{"h":23.7,"s":23},{"h":24.4,"s":24},{"h":25.1,"s":27},{"h":25.5,"s":25},{"h":25.8,"s":22},{"h":26.2,"s":10},{"h":26.5,"s":2},{"h":27,"s":0},{"h":27.6,"s":-0.5},{"h":28.2,"s":1},{"h":28.8,"s":2.5},{"h":29.2,"s":6},{"h":29.5,"s":12},{"h":29.8,"s":6},{"h":30.4,"s":-3},{"h":30.9,"s":-9},{"h":31.3,"s":-15},{"h":31.8,"s":-24},{"h":32.3,"s":-33},{"h":32.7,"s":-42},{"h":33.1,"s":-37},{"h":33.6,"s":-33},{"h":34.1,"s":-20},{"h":34.4,"s":-27},{"h":34.6,"s":-28},{"h":35,"s":-22},{"h":35.5,"s":-25},{"h":36,"s":-31},{"h":36.4,"s":-38},{"h":37.3,"s":-48},{"h":38,"s":-54},{"h":38.7,"s":-60},{"h":39.4,"s":-66},{"h":40.1,"s":-70},{"h":40.8,"s":-73},{"h":41.5,"s":-75},{"h":42.2,"s":-77},{"h":42.9,"s":-80},{"h":43.4,"s":-85},{"h":43.8,"s":-90},{"h":44.2,"s":-105},{"h":44.5,"s":-97},{"h":44.9,"s":-88},{"h":45.1,"s":-100},{"h":45.4,"s":-98},{"h":45.8,"s":-108},{"h":46.1,"s":-117},{"h":46.5,"s":-122},{"h":46.8,"s":-130},{"h":47.1,"s":-122},{"h":47.5,"s":-115},{"h":48,"s":-106},{"h":48.4,"s":-98},{"h":48.9,"s":-88},{"h":49.3,"s":-80},{"h":49.7,"s":-84},{"h":50.2,"s":-88},{"h":50.7,"s":-84},{"h":51.2,"s":-80},{"h":51.8,"s":-79},{"h":52.5,"s":-80},{"h":53,"s":-77},{"h":53.5,"s":-73},{"h":53.8,"s":-62},{"h":54.1,"s":-53},{"h":54.4,"s":-55},{"h":54.8,"s":-60},{"h":55.1,"s":-70},{"h":55.5,"s":-78},{"h":55.9,"s":-75},{"h":56.2,"s":-83},{"h":56.6,"s":-75},{"h":57.1,"s":-65},{"h":57.6,"s":-60},{"h":58.1,"s":-58},{"h":59,"s":-56},{"h":59.9,"s":-55},{"h":60.4,"s":-53},{"h":60.8,"s":-50},{"h":61.5,"s":-48},{"h":62.2,"s":-45},{"h":63,"s":-44},{"h":63.8,"s":-43},{"h":64.5,"s":-42},{"h":65.2,"s":-41},{"h":66,"s":-43},{"h":66.8,"s":-44},{"h":67.5,"s":-44},{"h":68.2,"s":-45},{"h":68.7,"s":-40},{"h":69.1,"s":-33},{"h":69.5,"s":-30},{"h":70,"s":-28},{"h":70.5,"s":-32},{"h":71,"s":-32},{"h":71.5,"s":-36},{"h":72,"s":-40}],
  "kp": [{"h":0,"kp":1.67},{"h":3,"kp":1.67},{"h":6,"kp":0.33},{"h":9,"kp":1.67},{"h":12,"kp":1.33},{"h":15,"kp":1.33},{"h":18,"kp":1.33},{"h":21,"kp":1.67},{"h":24,"kp":2.33},{"h":27,"kp":2},{"h":30,"kp":3.33},{"h":33,"kp":4},{"h":36,"kp":4},{"h":39,"kp":5.67},{"h":42,"kp":5},{"h":45,"kp":7},{"h":48,"kp":5.33},{"h":51,"kp":4.67},{"h":54,"kp":5},{"h":57,"kp":3},{"h":60,"kp":3.33},{"h":63,"kp":3},{"h":66,"kp":3.33},{"h":69,"kp":2.67}]
},
"vconcat": [
 {
  "width": 747, "height": 150,
  "layer": [
   {"layer": [
     {"data": {"name": "days"}, "mark": {"type": "rule", "color": "#c4c4c4", "strokeWidth": 1},
      "encoding": {"x": {"field": "h", "type": "quantitative", "scale": {"domain": [0, 72], "nice": false, "zero": false}, "axis": {"orient": "bottom", "values": [0,3,6,9,12,15,18,21,24,27,30,33,36,39,42,45,48,51,54,57,60,63,66,69,72], "labels": false, "tickSize": -6, "title": null}}}},
     {"data": {"name": "onset"}, "mark": {"type": "rule", "color": "black", "strokeWidth": 1.5, "strokeDash": [7, 5]},
      "encoding": {"x": {"field": "h", "type": "quantitative", "scale": {"domain": [0, 72], "nice": false, "zero": false}}}},
     {"data": {"name": "vsw"}, "mark": {"type": "line", "color": "black", "strokeWidth": 2, "clip": true},
      "encoding": {"x": {"field": "h", "type": "quantitative", "scale": {"domain": [0, 72], "nice": false, "zero": false}},
                   "y": {"field": "v", "type": "quantitative", "scale": {"domain": [349, 510], "nice": false, "zero": false},
                         "axis": {"orient": "left", "values": [400, 500], "tickSize": -15, "labelPadding": 25, "title": "Vsw(km/s)", "titlePadding": 33}}}},
     {"data": {"values": [{"t": "(a)"}]}, "mark": {"type": "text", "align": "left", "baseline": "middle", "fontSize": 28, "fontWeight": "bold"},
      "encoding": {"x": {"datum": 1, "type": "quantitative", "scale": {"domain": [0, 72], "nice": false, "zero": false}},
                   "y": {"datum": 481, "type": "quantitative", "scale": {"domain": [349, 510], "nice": false, "zero": false}, "axis": {"orient": "left", "values": [350, 450], "labels": false, "tickSize": -9, "title": null}},
                   "text": {"field": "t"}}},
     {"data": {"name": "dates"}, "mark": {"type": "text", "align": "center", "baseline": "middle", "font": "Liberation Mono", "fontStyle": "italic", "fontSize": 27, "color": "#666666"},
      "encoding": {"x": {"field": "h", "type": "quantitative", "scale": {"domain": [0, 72], "nice": false, "zero": false}},
                   "y": {"datum": 524, "type": "quantitative", "scale": {"domain": [349, 510], "nice": false, "zero": false}, "axis": {"orient": "left", "ticks": false, "labels": false, "title": null}},
                   "text": {"field": "d"}}}
   ], "resolve": {"axis": {"y": "independent"}}},
   {"layer": [
     {"data": {"name": "psw"}, "mark": {"type": "line", "color": "#1e32f0", "strokeWidth": 2, "clip": true},
      "encoding": {"x": {"field": "h", "type": "quantitative", "scale": {"domain": [0, 72], "nice": false, "zero": false}, "axis": {"orient": "top", "values": [0,3,6,9,12,15,18,21,24,27,30,33,36,39,42,45,48,51,54,57,60,63,66,69,72], "labels": false, "tickSize": -6, "title": null}},
                   "y": {"field": "p", "type": "quantitative", "scale": {"domain": [0, 15.3], "nice": false, "zero": false},
                         "axis": {"orient": "right", "values": [0, 5, 10, 15], "labelExpr": "datum.value % 10 === 0 ? datum.label : ''", "tickSize": -15, "labelPadding": 27, "title": "Psw(nPa)", "titlePadding": 33, "titleAngle": 270, "titleBaseline": "top", "encode": {"ticks": {"x2": {"signal": "datum.value % 10 === 0 ? -15 : -9"}}}}}}}
   ]}
  ],
  "resolve": {"scale": {"y": "independent"}, "axis": {"x": "independent", "y": "independent"}}
 },
 {
  "width": 747, "height": 150,
  "layer": [
   {"layer": [
     {"data": {"name": "days"}, "mark": {"type": "rule", "color": "#c4c4c4", "strokeWidth": 1},
      "encoding": {"x": {"field": "h", "type": "quantitative", "scale": {"domain": [0, 72], "nice": false, "zero": false}, "axis": {"orient": "bottom", "values": [0,3,6,9,12,15,18,21,24,27,30,33,36,39,42,45,48,51,54,57,60,63,66,69,72], "labels": false, "tickSize": -6, "title": null}}}},
     {"data": {"name": "onset"}, "mark": {"type": "rule", "color": "black", "strokeWidth": 1.5, "strokeDash": [7, 5]},
      "encoding": {"x": {"field": "h", "type": "quantitative", "scale": {"domain": [0, 72], "nice": false, "zero": false}}}},
     {"data": {"name": "zero"}, "mark": {"type": "rule", "color": "#333333", "strokeWidth": 1.5, "strokeDash": [9, 6]},
      "encoding": {"y": {"field": "z", "type": "quantitative", "scale": {"domain": [-16.3, 13.1], "nice": false, "zero": false}, "axis": {"orient": "left", "values": [-15, -5, 5], "labels": false, "tickSize": -9, "title": null}}}},
     {"data": {"name": "bz"}, "mark": {"type": "line", "color": "black", "strokeWidth": 2, "clip": true},
      "encoding": {"x": {"field": "h", "type": "quantitative", "scale": {"domain": [0, 72], "nice": false, "zero": false}},
                   "y": {"field": "b", "type": "quantitative", "scale": {"domain": [-16.3, 13.1], "nice": false, "zero": false},
                         "axis": {"orient": "left", "values": [-10, 0, 10], "tickSize": -15, "labelPadding": 25, "title": "Bz(nT)", "titlePadding": 33}}}},
     {"data": {"values": [{"t": "(b)"}]}, "mark": {"type": "text", "align": "left", "baseline": "middle", "fontSize": 28, "fontWeight": "bold"},
      "encoding": {"x": {"datum": 1, "type": "quantitative", "scale": {"domain": [0, 72], "nice": false, "zero": false}},
                   "y": {"datum": 8.2, "type": "quantitative", "scale": {"domain": [-16.3, 13.1], "nice": false, "zero": false}, "axis": {"orient": "left", "ticks": false, "labels": false, "title": null}},
                   "text": {"field": "t"}}}
   ], "resolve": {"axis": {"y": "independent"}}},
   {"layer": [
     {"data": {"name": "ey"}, "mark": {"type": "line", "color": "#1e32f0", "strokeWidth": 2, "clip": true},
      "encoding": {"x": {"field": "h", "type": "quantitative", "scale": {"domain": [0, 72], "nice": false, "zero": false}, "axis": {"orient": "top", "values": [0,3,6,9,12,15,18,21,24,27,30,33,36,39,42,45,48,51,54,57,60,63,66,69,72], "labels": false, "tickSize": -6, "title": null}},
                   "y": {"field": "e", "type": "quantitative", "scale": {"domain": [-8.2, 6.8], "nice": false, "zero": false},
                         "axis": {"orient": "right", "values": [-8,-7,-6,-5,-4,-3,-2,-1,0,1,2,3,4,5,6], "labelExpr": "datum.value % 3 === 0 ? datum.label : ''", "tickSize": -15, "labelPadding": 27, "title": "Ey(mV/m)", "titlePadding": 33, "titleAngle": 270, "titleBaseline": "top", "encode": {"ticks": {"x2": {"signal": "datum.value % 3 === 0 ? -15 : -9"}}}}}}}
   ]}
  ],
  "resolve": {"scale": {"y": "independent"}, "axis": {"x": "independent", "y": "independent"}}
 },
 {
  "width": 747, "height": 150,
  "layer": [
   {"layer": [
     {"data": {"name": "days"}, "mark": {"type": "rule", "color": "#c4c4c4", "strokeWidth": 1},
      "encoding": {"x": {"field": "h", "type": "quantitative", "scale": {"domain": [0, 72], "nice": false, "zero": false}, "axis": {"orient": "bottom", "values": [0,3,6,9,12,15,18,21,24,27,30,33,36,39,42,45,48,51,54,57,60,63,66,69,72], "labels": false, "tickSize": -6, "title": null}}}},
     {"data": {"name": "ae"}, "mark": {"type": "bar", "color": "#9c9c9c", "size": 2.2, "clip": true},
      "encoding": {"x": {"field": "h", "type": "quantitative", "scale": {"domain": [0, 72], "nice": false, "zero": false}},
                   "y": {"field": "a", "type": "quantitative", "scale": {"domain": [0, 1160], "nice": false, "zero": false},
                         "axis": {"orient": "left", "values": [0, 500, 1000], "format": "d", "tickSize": -15, "labelPadding": 25, "title": "AE(nT)", "titlePadding": 33}}}},
     {"data": {"name": "onset"}, "mark": {"type": "rule", "color": "black", "strokeWidth": 1.5, "strokeDash": [7, 5]},
      "encoding": {"x": {"field": "h", "type": "quantitative", "scale": {"domain": [0, 72], "nice": false, "zero": false}}}},
     {"data": {"values": [{"t": "(c)"}]}, "mark": {"type": "text", "align": "left", "baseline": "middle", "fontSize": 28, "fontWeight": "bold"},
      "encoding": {"x": {"datum": 1, "type": "quantitative", "scale": {"domain": [0, 72], "nice": false, "zero": false}},
                   "y": {"datum": 898, "type": "quantitative", "scale": {"domain": [0, 1160], "nice": false, "zero": false}, "axis": {"orient": "left", "values": [100, 200, 300, 400, 600, 700, 800, 900, 1100], "labels": false, "tickSize": -9, "title": null}},
                   "text": {"field": "t"}}}
   ], "resolve": {"axis": {"y": "independent"}}},
   {"layer": [
     {"data": {"name": "sjh"}, "mark": {"type": "line", "color": "#1e32f0", "strokeWidth": 2.2, "clip": true},
      "encoding": {"x": {"field": "h", "type": "quantitative", "scale": {"domain": [0, 72], "nice": false, "zero": false}, "axis": {"orient": "top", "values": [0,3,6,9,12,15,18,21,24,27,30,33,36,39,42,45,48,51,54,57,60,63,66,69,72], "labels": false, "tickSize": -6, "title": null}},
                   "y": {"field": "b", "type": "quantitative", "scale": {"domain": [0, 3.05], "nice": false, "zero": false},
                         "axis": {"orient": "right", "values": [0, 1, 2, 3], "labelExpr": "datum.value % 2 === 0 ? datum.label : ''", "tickSize": -15, "labelPadding": 27, "title": "SJH(GW)", "titlePadding": 33, "titleAngle": 270, "titleBaseline": "top", "encode": {"ticks": {"x2": {"signal": "datum.value % 2 === 0 ? -15 : -9"}}}}}}},
     {"data": {"name": "sjh"}, "mark": {"type": "line", "color": "#d83cd8", "strokeWidth": 2.2, "clip": true},
      "encoding": {"x": {"field": "h", "type": "quantitative", "scale": {"domain": [0, 72], "nice": false, "zero": false}},
                   "y": {"field": "m", "type": "quantitative", "scale": {"domain": [0, 3.05], "nice": false, "zero": false}}}}
   ]}
  ],
  "resolve": {"scale": {"y": "independent"}, "axis": {"x": "independent", "y": "independent"}}
 },
 {
  "width": 747, "height": 150,
  "layer": [
   {"layer": [
     {"data": {"name": "kp"}, "mark": {"type": "bar", "filled": false, "color": "#1e32f0", "strokeWidth": 3, "size": 26, "clip": true},
      "encoding": {"x": {"field": "h", "type": "quantitative", "scale": {"domain": [0, 72], "nice": false, "zero": false}, "axis": {"orient": "top", "values": [0,3,6,9,12,15,18,21,24,27,30,33,36,39,42,45,48,51,54,57,60,63,66,69,72], "labels": false, "tickSize": -6, "title": null}},
                   "y": {"field": "kp", "type": "quantitative", "scale": {"domain": [0, 9.2], "nice": false, "zero": false},
                         "axis": {"orient": "right", "values": [0,1,2,3,4,5,6,7,8,9], "labelExpr": "datum.value % 2 === 0 ? datum.label : ''", "tickSize": -15, "labelPadding": 27, "title": "Kp", "titlePadding": 33, "titleAngle": 270, "titleBaseline": "top", "encode": {"ticks": {"x2": {"signal": "datum.value % 2 === 0 ? -15 : -9"}}}}}}}
   ]},
   {"layer": [
     {"data": {"name": "days"}, "mark": {"type": "rule", "color": "#c4c4c4", "strokeWidth": 1},
      "encoding": {"x": {"field": "h", "type": "quantitative", "scale": {"domain": [0, 72], "nice": false, "zero": false}, "axis": {"orient": "bottom", "values": [0,3,6,9,12,15,18,21,24,27,30,33,36,39,42,45,48,51,54,57,60,63,66,69,72], "tickSize": -6, "labelPadding": 18, "labelExpr": "datum.value % 6 === 0 ? datum.label : ''", "title": "UT(hours)", "titlePadding": 14}}}},
     {"data": {"name": "onset"}, "mark": {"type": "rule", "color": "black", "strokeWidth": 1.5, "strokeDash": [7, 5]},
      "encoding": {"x": {"field": "h", "type": "quantitative", "scale": {"domain": [0, 72], "nice": false, "zero": false}}}},
     {"data": {"name": "zero"}, "mark": {"type": "rule", "color": "#333333", "strokeWidth": 1.5, "strokeDash": [9, 6]},
      "encoding": {"y": {"field": "z", "type": "quantitative", "scale": {"domain": [-151, 72], "nice": false, "zero": false}, "axis": {"orient": "left", "values": [-150, -50, 50], "labels": false, "tickSize": -9, "title": null}}}},
     {"data": {"name": "sym"}, "mark": {"type": "line", "color": "black", "strokeWidth": 2, "clip": true},
      "encoding": {"x": {"field": "h", "type": "quantitative", "scale": {"domain": [0, 72], "nice": false, "zero": false}},
                   "y": {"field": "s", "type": "quantitative", "scale": {"domain": [-151, 72], "nice": false, "zero": false},
                         "axis": {"orient": "left", "values": [-100, 0], "tickSize": -15, "labelPadding": 25, "title": "SYM/H(nT)", "titlePadding": 33}}}},
     {"data": {"values": [{"t": "(d)"}]}, "mark": {"type": "text", "align": "left", "baseline": "middle", "fontSize": 28, "fontWeight": "bold"},
      "encoding": {"x": {"datum": 1, "type": "quantitative", "scale": {"domain": [0, 72], "nice": false, "zero": false}},
                   "y": {"datum": 30, "type": "quantitative", "scale": {"domain": [-151, 72], "nice": false, "zero": false}, "axis": {"orient": "left", "ticks": false, "labels": false, "title": null}},
                   "text": {"field": "t"}}}
   ], "resolve": {"axis": {"y": "independent"}}}
  ],
  "resolve": {"scale": {"y": "independent"}, "axis": {"x": "independent", "y": "independent"}}
 }
]
}
